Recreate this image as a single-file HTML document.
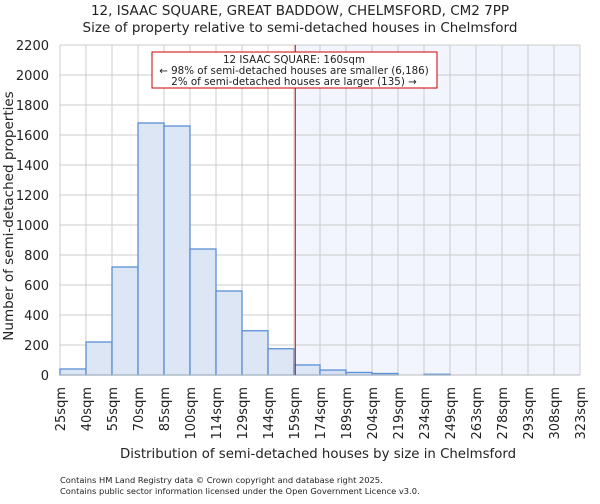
<!DOCTYPE html>
<html><head><meta charset="utf-8"><style>
body{margin:0;background:#fff;font-family:"DejaVu Sans","Liberation Sans",sans-serif;}
svg text{font-family:"DejaVu Sans","Liberation Sans",sans-serif;fill:#222;}
</style></head><body>
<svg id="c" width="600" height="500" xmlns="http://www.w3.org/2000/svg">
<text x="300" y="15" text-anchor="middle" font-size="13.5">12, ISAAC SQUARE, GREAT BADDOW, CHELMSFORD, CM2 7PP</text>
<text x="300" y="32" text-anchor="middle" font-size="13.5">Size of property relative to semi-detached houses in Chelmsford</text>
<g id="grid"></g><g id="bars"></g><g id="axes"></g>
<text x="318" y="458" text-anchor="middle" font-size="13.3">Distribution of semi-detached houses by size in Chelmsford</text>
<text transform="translate(13,216) rotate(-90)" text-anchor="middle" font-size="13.5">Number of semi-detached properties</text>
<text x="60" y="483" font-size="8.3">Contains HM Land Registry data © Crown copyright and database right 2025.</text>
<text x="60" y="494" font-size="8.3">Contains public sector information licensed under the Open Government Licence v3.0.</text>
</svg>
<script>
const labels=["25sqm","40sqm","55sqm","70sqm","85sqm","100sqm","114sqm","129sqm","144sqm","159sqm","174sqm","189sqm","204sqm","219sqm","234sqm","249sqm","263sqm","278sqm","293sqm","308sqm","323sqm"];
const counts=[40,220,720,1680,1660,840,560,295,175,67,33,17,10,0,5,0,0,0,0,0];
const yTicks=[0,200,400,600,800,1000,1200,1400,1600,1800,2000,2200];
const propertyBin=9.05;
const NS="http://www.w3.org/2000/svg";
const L=60,R=580,T=45,B=375,yMax=2200;
const bw=(R-L)/counts.length;
const xs=i=>L+i*bw, ys=v=>B-(v/yMax)*(B-T);
function mk(p,tag,a){const e=document.createElementNS(NS,tag);for(const k in a)e.setAttribute(k,a[k]);p.appendChild(e);return e;}
const g=document.getElementById('grid'),b=document.getElementById('bars'),ax=document.getElementById('axes');
const px=xs(propertyBin);
const sh=mk(g,'rect',{x:px,y:T,width:R-px,height:B-T,fill:'#f2f5fd'});


yTicks.forEach(v=>{const y=ys(v);
 mk(g,'line',{x1:L,x2:R,y1:y,y2:y,stroke:'#cccccc','stroke-width':1});
 const t=mk(ax,'text',{x:L-11,y:y+5,'text-anchor':'end','font-size':13});t.textContent=v;
 
 });
labels.forEach((l,i)=>{const x=xs(i);
 mk(g,'line',{x1:x,x2:x,y1:T,y2:B,stroke:'#cccccc','stroke-width':1});
 const t=mk(ax,'text',{transform:`translate(${x+5},${B+12}) rotate(-90)`,'text-anchor':'end','font-size':13});t.textContent=l;
 
 });
counts.forEach((v,i)=>{if(v<=0)return;const y=ys(v);
 const r=mk(b,'rect',{x:xs(i),y:y,width:bw,height:B-y,fill:i<propertyBin?'#dce6f4':'#d6e2f3',stroke:'#5b8fd6','stroke-width':1.3});
 
 });
mk(ax,'line',{x1:L,x2:R,y1:B,y2:B,stroke:'#bbb'});
const pl=mk(ax,'line',{x1:px,x2:px,y1:T,y2:B,stroke:'#e00000','stroke-width':1});


const bx=mk(ax,'rect',{x:152,y:52,width:285,height:36,fill:'#fff',stroke:'#cc0000','stroke-width':1});


["12 ISAAC SQUARE: 160sqm","← 98% of semi-detached houses are smaller (6,186)","2% of semi-detached houses are larger (135) →"].forEach((s,i)=>{
 const t=mk(ax,'text',{x:294,y:63+i*11,'text-anchor':'middle','font-size':10.3});t.textContent=s;
 
 });
</script>
</body></html>
